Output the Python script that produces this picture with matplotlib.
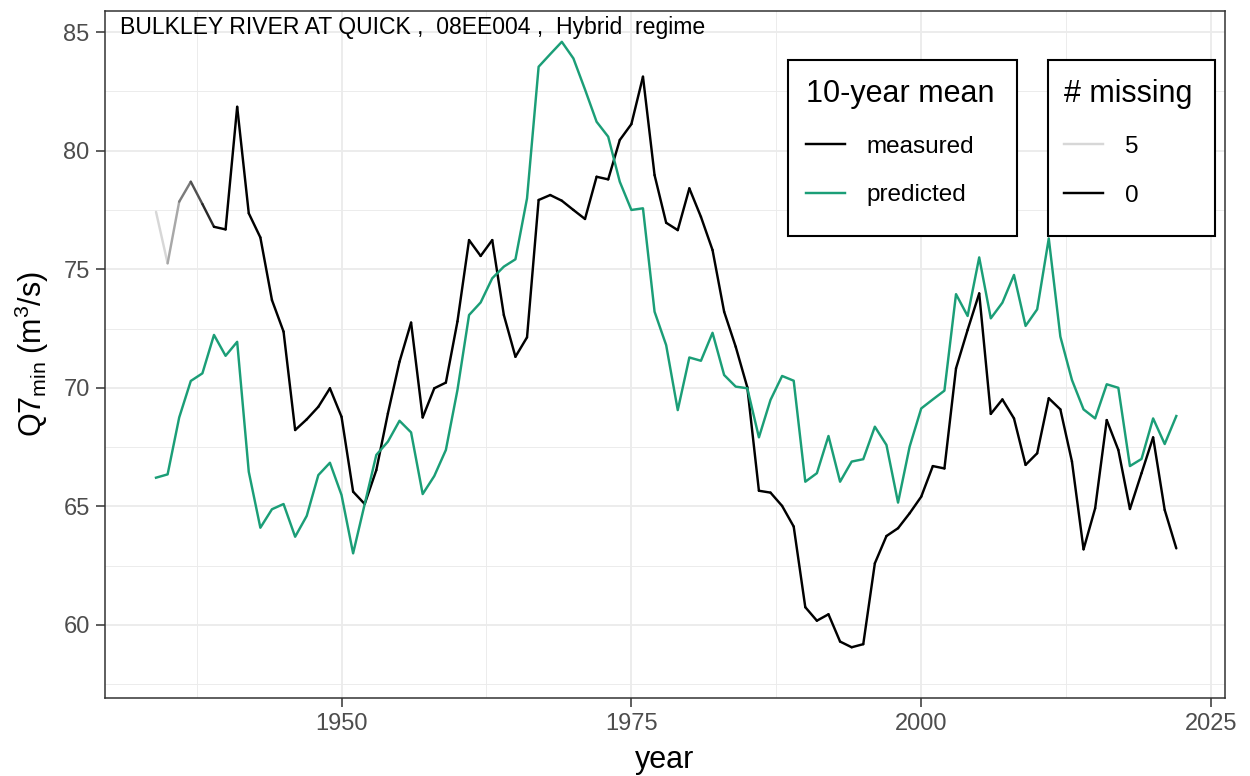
import numpy as np
import matplotlib.pyplot as plt
from matplotlib.collections import LineCollection
from matplotlib.lines import Line2D
from matplotlib.patches import Rectangle

plt.rcParams['font.family'] = ['Liberation Sans', 'DejaVu Sans']
plt.rcParams['mathtext.fontset'] = 'custom'
plt.rcParams['mathtext.rm'] = 'Liberation Sans'
plt.rcParams['mathtext.it'] = 'Liberation Sans:italic'

years = np.arange(1934, 2023)

# 10-year mean of the measured series
measured = [77.42, 75.25, 77.85, 78.69, 77.75, 76.79, 76.68, 81.85, 77.36, 76.34,
            73.70, 72.37, 68.22, 68.67, 69.20, 69.98, 68.78, 65.62, 65.10, 66.53,
            68.92, 71.10, 72.75, 68.75, 69.98, 70.22, 72.80, 76.23, 75.56, 76.23,
            73.07, 71.31, 72.13, 77.92, 78.13, 77.89, 77.50, 77.12, 78.90, 78.79,
            80.45, 81.12, 83.12, 78.97, 76.96, 76.65, 78.41, 77.21, 75.81, 73.21,
            71.73, 70.02, 65.66, 65.58, 65.02, 64.15, 60.75, 60.18, 60.45, 59.30,
            59.06, 59.19, 62.60, 63.75, 64.08, 64.71, 65.41, 66.70, 66.60, 70.82,
            72.44, 73.98, 68.90, 69.51, 68.71, 66.75, 67.24, 69.56, 69.09, 66.89,
            63.19, 64.92, 68.64, 67.38, 64.89, 66.40, 67.91, 64.85, 63.23]

# 10-year mean of the predicted series
predicted = [66.21, 66.35, 68.75, 70.29, 70.61, 72.23, 71.35, 71.94, 66.46, 64.10,
             64.88, 65.10, 63.72, 64.60, 66.32, 66.84, 65.48, 63.02, 65.10, 67.17,
             67.73, 68.61, 68.12, 65.52, 66.28, 67.38, 69.91, 73.07, 73.60, 74.62,
             75.11, 75.42, 77.99, 83.54, 84.07, 84.59, 83.89, 82.58, 81.22, 80.59,
             78.69, 77.50, 77.57, 73.21, 71.80, 69.06, 71.28, 71.14, 72.32, 70.54,
             70.05, 69.98, 67.91, 69.49, 70.50, 70.30, 66.04, 66.40, 67.97, 66.04,
             66.89, 66.99, 68.36, 67.59, 65.16, 67.52, 69.13, 69.51, 69.88, 73.95,
             73.03, 75.50, 72.93, 73.59, 74.76, 72.61, 73.31, 76.30, 72.16, 70.33,
             69.09, 68.71, 70.15, 70.00, 66.70, 67.00, 68.71, 67.63, 68.81]

# number of missing years inside each 10-year window
missing = [5, 4, 3, 2, 1] + [0] * 84

green = '#1B9E77'
lw = 1.75


def grey_for(n, n_max=5, light_L=86.0):
    # interpolate lightness in CIELAB between black (0) and light grey (n_max)
    L = light_L * n / n_max
    Y = ((L + 16) / 116) ** 3 if L > 8 else L / 903.3
    c = 12.92 * Y if Y <= 0.0031308 else 1.055 * Y ** (1 / 2.4) - 0.055
    return (c, c, c)


W, H = 1250, 776
fig = plt.figure(figsize=(W / 100, H / 100), dpi=100)
ax = fig.add_axes([105 / W, 1 - 698 / H, (1225 - 105) / W, (698 - 11) / H])

# measured line, each segment shaded by the missing count at its start
pts = np.column_stack([years, measured])
segs = np.stack([pts[:-1], pts[1:]], axis=1)
seg_cols = [grey_for(m) for m in missing[:-1]]
lc = LineCollection(segs, colors=seg_cols, linewidths=lw, capstyle='round',
                    joinstyle='round', zorder=3)
ax.add_collection(lc)

ax.plot(years, predicted, color=green, lw=lw, zorder=3)

ax.set_xlim(1929.6, 2026.2)
ax.set_ylim(56.92, 85.89)
ax.set_xticks([1950, 1975, 2000, 2025])
ax.set_xticks([1937.5, 1962.5, 1987.5, 2012.5], minor=True)
ax.set_yticks([60, 65, 70, 75, 80, 85])
ax.set_yticks(np.arange(57.5, 85.1, 5), minor=True)

ax.grid(which='major', color='#EBEBEB', lw=1.3, zorder=0)
ax.grid(which='minor', color='#EBEBEB', lw=0.65, zorder=0)
ax.set_axisbelow(True)
for s in ax.spines.values():
    s.set_color('#333333')
    s.set_linewidth(1.1)
ax.tick_params(which='major', length=6.5, width=1.1, color='#333333',
               labelcolor='#4D4D4D', labelsize=17, pad=4.5)
ax.tick_params(which='minor', length=0)

ax.set_xlabel('year', fontsize=22, labelpad=7)
ax.set_ylabel(r'Q7$_{\mathrm{min}}\;$(m$^{3}$/s)', fontsize=22, labelpad=9)

ax.text(0.0134, 0.9665, 'BULKLEY RIVER AT QUICK ,  08EE004 ,  Hybrid  regime',
        transform=ax.transAxes, fontsize=16.6, va='baseline', ha='left', zorder=6)

# legend boxes
for x0, x1 in [(788, 1017), (1048, 1215)]:
    ax.add_patch(Rectangle((x0 / W, 1 - 236 / H), (x1 - x0) / W, 176 / H,
                           transform=fig.transFigure, facecolor='white',
                           edgecolor='black', lw=1.5, zorder=4, clip_on=False))

kw = dict(bbox_transform=fig.transFigure, frameon=False, fontsize=17.5,
          title_fontsize=22, handlelength=1.6, handletextpad=0.9,
          labelspacing=1.1, borderpad=0, borderaxespad=0, alignment='left',
          loc='upper left')

h1 = [Line2D([], [], color='black', lw=lw), Line2D([], [], color=green, lw=lw)]
leg1 = ax.legend(h1, ['measured', 'predicted'], title='10-year mean',
                 bbox_to_anchor=(806 / W, 1 - 79 / H), **kw)
leg1.set_zorder(5)
ax.add_artist(leg1)

h2 = [Line2D([], [], color=grey_for(5), lw=lw), Line2D([], [], color=grey_for(0), lw=lw)]
leg2 = ax.legend(h2, ['5', '0'], title='# missing',
                 bbox_to_anchor=(1064 / W, 1 - 79 / H), **kw)
leg2.set_zorder(5)

fig.savefig('out.png', dpi=100)
